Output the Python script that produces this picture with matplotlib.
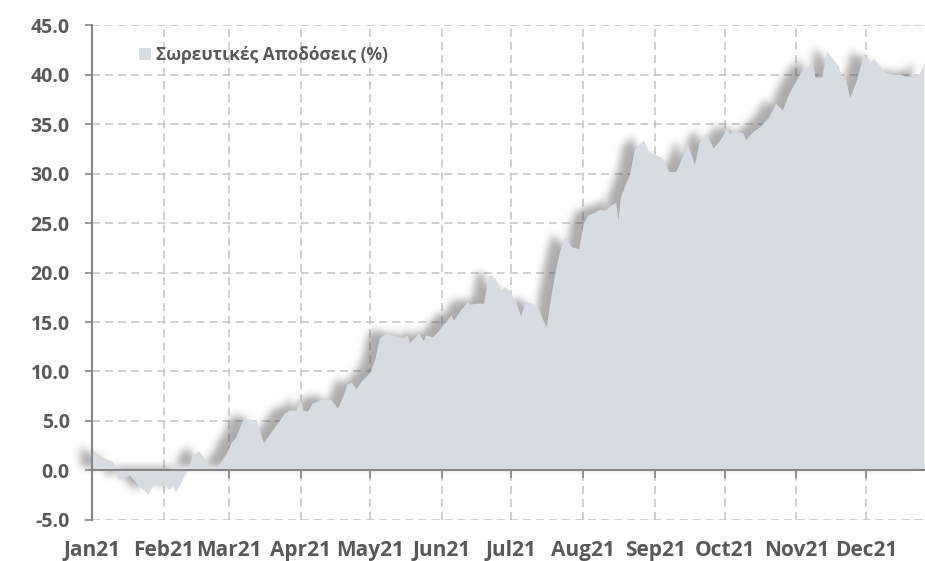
import numpy as np
import pandas as pd
import matplotlib
matplotlib.use("Agg")
import matplotlib.pyplot as plt
import matplotlib.dates as mdates
import matplotlib.transforms as mtransforms
from matplotlib.patches import Patch

# σωρευτικές αποδόσεις 2021 (εκτίμηση από το γράφημα)
dates = [
    "2021-01-01", "2021-01-05", "2021-01-08", "2021-01-10", "2021-01-11", "2021-01-12",
    "2021-01-16", "2021-01-17", "2021-01-20", "2021-01-25", "2021-01-27",
    "2021-02-01", "2021-02-03", "2021-02-05", "2021-02-06", "2021-02-09", "2021-02-11",
    "2021-02-13", "2021-02-16", "2021-02-18", "2021-02-20", "2021-02-22", "2021-02-24",
    "2021-02-28",
    "2021-03-02", "2021-03-04", "2021-03-07", "2021-03-10", "2021-03-13", "2021-03-16",
    "2021-03-19", "2021-03-22", "2021-03-25", "2021-03-27", "2021-03-30",
    "2021-04-01", "2021-04-02", "2021-04-04", "2021-04-06", "2021-04-10", "2021-04-14",
    "2021-04-17", "2021-04-19", "2021-04-21", "2021-04-23", "2021-04-25", "2021-04-27",
    "2021-04-30",
    "2021-05-01", "2021-05-03", "2021-05-05", "2021-05-08", "2021-05-12", "2021-05-15",
    "2021-05-17", "2021-05-18", "2021-05-20", "2021-05-22", "2021-05-24", "2021-05-25",
    "2021-05-28", "2021-05-30",
    "2021-06-02", "2021-06-05", "2021-06-06", "2021-06-09", "2021-06-12", "2021-06-13",
    "2021-06-16", "2021-06-19", "2021-06-21", "2021-06-22", "2021-06-24", "2021-06-26",
    "2021-06-28", "2021-06-30",
    "2021-07-03", "2021-07-05", "2021-07-07", "2021-07-10", "2021-07-12", "2021-07-16",
    "2021-07-18", "2021-07-20", "2021-07-22", "2021-07-24", "2021-07-27", "2021-07-30",
    "2021-08-01", "2021-08-03", "2021-08-06", "2021-08-08", "2021-08-10", "2021-08-13",
    "2021-08-15", "2021-08-16", "2021-08-17", "2021-08-20", "2021-08-21", "2021-08-23",
    "2021-08-25", "2021-08-27", "2021-08-29",
    "2021-09-01", "2021-09-04", "2021-09-07", "2021-09-10", "2021-09-13", "2021-09-15",
    "2021-09-18", "2021-09-20", "2021-09-23", "2021-09-26", "2021-09-29",
    "2021-10-02", "2021-10-03", "2021-10-05", "2021-10-09", "2021-10-10", "2021-10-11",
    "2021-10-13", "2021-10-16", "2021-10-20", "2021-10-23", "2021-10-26", "2021-10-28",
    "2021-10-31",
    "2021-11-03", "2021-11-06", "2021-11-08", "2021-11-09", "2021-11-12", "2021-11-14",
    "2021-11-16", "2021-11-18", "2021-11-19", "2021-11-21", "2021-11-22", "2021-11-24",
    "2021-11-27", "2021-11-30",
    "2021-12-01", "2021-12-03", "2021-12-04", "2021-12-06", "2021-12-09", "2021-12-11",
    "2021-12-16", "2021-12-19", "2021-12-21", "2021-12-24", "2021-12-26",
]
returns = [
    2.1, 1.4, 1.1, 0.9, 0.0, -0.9,
    -0.6, -0.4, -1.2, -2.4, -1.6,
    -1.2, -1.9, -1.6, -2.2, -0.9, 0.0,
    1.4, 2.0, 1.4, 0.4, 0.1, 0.4,
    1.8,
    2.8, 3.4, 5.1, 5.2, 5.0, 2.8,
    3.8, 4.8, 5.8, 6.1, 6.1,
    7.2, 6.1, 6.0, 6.8, 7.2, 7.2,
    6.3, 7.4, 8.7, 8.9, 8.3, 9.0,
    9.7,
    10.0, 11.2, 13.4, 13.9, 13.6, 13.4,
    13.7, 12.9, 13.4, 13.9, 13.1, 13.7,
    13.5, 14.0,
    14.9, 15.7, 15.2, 16.2, 17.1, 16.8,
    16.9, 16.9, 19.6, 19.8, 19.4, 18.0,
    18.6, 18.2,
    17.0, 15.6, 17.1, 16.9, 16.6, 14.5,
    17.6, 20.3, 22.3, 23.6, 22.6, 22.4,
    25.0, 25.8, 26.1, 26.4, 26.3, 26.8,
    27.1, 25.3, 27.6, 29.4, 29.9, 32.4,
    32.9, 33.4, 32.2,
    31.9, 31.6, 30.2, 30.2, 31.9, 33.0,
    30.9, 33.1, 34.1, 32.6, 33.4,
    34.6, 34.0, 34.4, 34.1, 33.4, 33.7,
    34.2, 34.7, 35.7, 37.1, 36.4, 37.7,
    39.1,
    40.3, 40.8, 41.2, 39.7, 39.8, 42.4,
    41.8, 41.2, 40.9, 39.3, 39.7, 37.7,
    39.5, 42.2,
    41.8, 41.2, 41.7, 41.2, 40.3, 40.1,
    40.0, 39.8, 40.0, 40.1, 41.2,
]
month_labels = ["Jan21", "Feb21", "Mar21", "Apr21", "May21", "Jun21",
                "Jul21", "Aug21", "Sep21", "Oct21", "Nov21", "Dec21"]
y_ticks = [-5, 0, 5, 10, 15, 20, 25, 30, 35, 40, 45]
series_name = "Σωρευτικές Αποδόσεις (%)"

fill_col = "#d7dce2"
text_col = "#595959"
axis_col = "#868686"
grid_col = "#c4c4c4"

plt.rcParams["font.family"] = ["Open Sans", "DejaVu Sans"]
plt.rcParams["lines.scale_dashes"] = False

x = pd.to_datetime(dates)
y = np.array(returns)


def drop_shadow(im, dpi):
    # θολή σκιά μετατοπισμένη πάνω-αριστερά (όπως το Excel)
    pad = 18
    dx, dy = 6, 2
    a = np.pad(im[..., 3], pad)
    sig = 2.8
    k = np.exp(-0.5 * (np.arange(-10, 11) / sig) ** 2)
    k /= k.sum()
    a = np.apply_along_axis(lambda r: np.convolve(r, k, "same"), 0, a)
    a = np.apply_along_axis(lambda r: np.convolve(r, k, "same"), 1, a)
    a = np.roll(a, -dx, axis=1)
    a = np.roll(a, -dy, axis=0)
    out = np.zeros(a.shape + (4,))
    out[..., :3] = 0.25
    out[..., 3] = np.clip(a * 0.66, 0, 1)
    return out, -pad, -pad


fig = plt.figure(figsize=(9.25, 5.61), dpi=100)
ax = fig.add_axes([0.0995, 0.0731, 0.9005, 0.8823])

shadow = ax.fill_between(x, y, 0, color="black", linewidth=0, zorder=1.5)
shadow.set_agg_filter(drop_shadow)
ax.fill_between(x, y, 0, color=fill_col, linewidth=0, zorder=2)

ax.set_ylim(-5, 45)
ax.set_xlim(pd.Timestamp("2021-01-01"), pd.Timestamp("2021-12-26 12:00"))

ax.set_yticks(y_ticks)
ax.set_yticklabels([f"{v:.1f}" for v in y_ticks])
ax.xaxis.set_major_locator(mdates.MonthLocator())
ax.set_xticklabels([])

ax.set_axisbelow(True)
ax.grid(True, color=grid_col, linestyle=(0, (5.8, 3.6)), linewidth=1.1)

for s in ["top", "right"]:
    ax.spines[s].set_visible(False)
ax.spines["left"].set_color(axis_col)
ax.spines["left"].set_linewidth(1.5)
ax.spines["bottom"].set_position(("data", 0))
ax.spines["bottom"].set_color(axis_col)
ax.spines["bottom"].set_linewidth(1.5)

ax.tick_params(axis="y", colors=axis_col, length=5, width=1.2, pad=11,
               labelcolor=text_col, labelsize=14)
ax.tick_params(axis="x", colors=axis_col, length=6, width=1.2, direction="out")
for lab in ax.get_yticklabels():
    lab.set_fontweight("bold")

trans = mtransforms.blended_transform_factory(ax.transData, ax.transAxes)
for i, lab in enumerate(month_labels):
    ax.text(pd.Timestamp(2021, i + 1, 1), -0.073, lab, transform=trans,
            ha="center", va="baseline", fontsize=15, fontweight="bold",
            color=text_col, clip_on=False)

leg = ax.legend(handles=[Patch(facecolor=fill_col, edgecolor="none", label=series_name)],
                loc="center left", bbox_to_anchor=(0.056, 0.939), frameon=False,
                handlelength=0.7, handleheight=0.7, handletextpad=0.3,
                borderpad=0, borderaxespad=0,
                prop={"size": 12.5, "weight": "bold"})
for t in leg.get_texts():
    t.set_color(text_col)

fig.savefig("out.png", dpi=100)
